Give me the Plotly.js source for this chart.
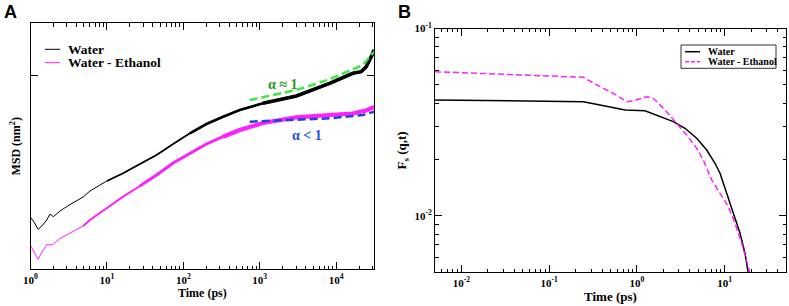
<!DOCTYPE html>
<html>
<head>
<meta charset="utf-8">
<script src="https://cdn.plot.ly/plotly-3.0.1.min.js"></script>
<style>html,body{margin:0;padding:0;background:#fff;}#chart{width:789px;height:306px;}</style>
</head>
<body>
<div id="chart"></div>
<script>
// ---------- Panel A : MSD ----------
const timeA = [1, 1.11, 1.26, 1.41, 1.63, 1.80, 1.99, 2.43, 3.28, 4.90, 6.0, 10, 16.3, 27.0, 44.7, 73.6, 122, 201, 331, 548, 1105, 3020, 8220, 16600, 21300, 24800, 30300, 31200];
const msdWater = [0.2685, 0.2442, 0.2065, 0.2235, 0.2545, 0.2855, 0.2716, 0.301, 0.334, 0.3733, 0.4042, 0.4559, 0.4956, 0.5436, 0.5901, 0.6469, 0.7021, 0.7501, 0.7878, 0.8224, 0.8570, 0.8947, 0.9602, 1.0119, 1.0201, 1.0460, 1.1151, 1.1322];
const msdWaterEthanol = [0.1229, 0.0893, 0.0516, 0.0893, 0.1280, 0.1255, 0.1306, 0.1590, 0.1859, 0.2235, 0.2545, 0.3165, 0.3748, 0.4300, 0.4868, 0.5488, 0.5989, 0.6469, 0.6846, 0.7191, 0.7553, 0.7847, 0.7966, 0.8043, 0.8147, 0.8198, 0.8353, 0.8405];
const fitTime = [740, 1105, 3020, 8220, 22400, 31600];
const fitAlphaOne = [0.874, 0.888, 0.9257, 0.9809, 1.0547, 1.1234];
const fitAlphaLess = [0.762, 0.7655, 0.7708, 0.7796, 0.7966, 0.8136];
const tickValsA = [1, 10, 100, 1000, 10000];
const tickTextA = ['10<sup>0</sup>', '10<sup>1</sup>', '10<sup>2</sup>', '10<sup>3</sup>', '10<sup>4</sup>'];

// ---------- Panel B : Fs(q,t) ----------
const timeBWater = [0.005, 0.2449, 0.3796, 0.7313, 1.236, 1.410, 1.833, 2.598, 3.532, 4.801, 6.242, 7.761, 8.849, 10.55, 12.54, 14.96, 17.05, 18.60, 19.2];
const fsWater = [0.04155, 0.04069, 0.03907, 0.03673, 0.03641, 0.03553, 0.03383, 0.03183, 0.02935, 0.02595, 0.02247, 0.01909, 0.01688, 0.01320, 0.01032, 0.00808, 0.00632, 0.00502, 0.0045];
const timeBEthanol = [0.005, 0.2449, 0.3796, 0.5381, 0.7647, 0.9095, 1.2926, 1.537, 2.090, 2.841, 3.693, 4.801, 5.707, 7.116, 8.849, 11.00, 13.12, 15.64, 18.60, 19.44, 20.0];
const fsWaterEthanol = [0.05882, 0.05491, 0.04891, 0.04510, 0.04069, 0.04104, 0.04326, 0.04241, 0.03673, 0.03119, 0.02702, 0.02294, 0.01987, 0.01554, 0.01320, 0.01120, 0.00913, 0.00714, 0.00536, 0.0050, 0.0046];
const tickValsBx = [0.01, 0.1, 1, 10];
const tickTextBx = ['10<sup>-2</sup>', '10<sup>-1</sup>', '10<sup>0</sup>', '10<sup>1</sup>'];
const tickValsBy = [0.01, 0.1];
const tickTextBy = ['10<sup>-2</sup>', '10<sup>-1</sup>'];

const seriesNames = ['Water', 'Water - Ethanol'];
const annotLabels = ['α ≈ 1', 'α < 1'];

const SERIF = 'Liberation Serif, Times New Roman, serif';
const SANS = 'Liberation Sans, Arial, sans-serif';
const MAG = '#ff20ff';

// the MSD traces get visibly noisier (thicker) at long times: redraw later parts of the same data wider
function after(t, v, t0) { const xs = [], ys = []; t.forEach((x, i) => { if (x >= t0) { xs.push(x); ys.push(v[i]); } }); return [xs, ys]; }
const waterBands = [[1, 1], [10, 1.8], [100, 2.6], [1000, 3.6]];
const ethBands = [[1, 1], [4.9, 2], [27, 3], [300, 4.2]];

const traces = [];
waterBands.forEach(([t0, w], k) => {
  const [xs, ys] = after(timeA, msdWater, t0);
  traces.push({x: xs, y: ys, name: seriesNames[0], mode: 'lines', line: {color: '#000', width: w}, xaxis: 'x', yaxis: 'y', showlegend: false});
});
ethBands.forEach(([t0, w], k) => {
  const [xs, ys] = after(timeA, msdWaterEthanol, t0);
  traces.push({x: xs, y: ys, name: seriesNames[1], mode: 'lines', line: {color: MAG, width: w}, xaxis: 'x', yaxis: 'y', showlegend: false});
});
traces.push(
  {x: fitTime, y: fitAlphaOne, name: annotLabels[0], mode: 'lines', line: {color: '#3ee83e', width: 2.5, dash: '8px,4px'}, xaxis: 'x', yaxis: 'y', showlegend: false},
  {x: fitTime, y: fitAlphaLess, name: annotLabels[1], mode: 'lines', line: {color: '#1f3fe0', width: 2.5, dash: '8px,4px'}, xaxis: 'x', yaxis: 'y', showlegend: false},
  {x: timeBWater, y: fsWater, name: seriesNames[0], mode: 'lines', line: {color: '#000', width: 1.5}, xaxis: 'x2', yaxis: 'y2', showlegend: false},
  {x: timeBEthanol, y: fsWaterEthanol, name: seriesNames[1], mode: 'lines', line: {color: MAG, width: 1.5, dash: '6px,3px'}, xaxis: 'x2', yaxis: 'y2', showlegend: false}
);

const W = 789, H = 306;
const px = v => v / W, py = v => 1 - v / H;

const axisCommon = {
  showline: true, linecolor: '#000', linewidth: 1, mirror: 'allticks',
  ticks: 'inside', ticklen: 7, tickwidth: 1, tickcolor: '#000',
  showgrid: false, zeroline: false,
  tickfont: {family: SERIF, size: 11, color: '#000', weight: 'bold'}
};
const minorLog = {ticks: 'inside', ticklen: 3.5, tickwidth: 1, tickcolor: '#000', dtick: 'D1', showgrid: false};

const layout = {
  width: W, height: H,
  margin: {l: 0, r: 0, t: 0, b: 0},
  paper_bgcolor: '#fff', plot_bgcolor: '#fff',
  showlegend: false,
  xaxis: Object.assign({}, axisCommon, {
    domain: [px(30.5), px(374.3)], anchor: 'y', type: 'log', range: [0, 4.5],
    tickmode: 'array', tickvals: tickValsA, ticktext: tickTextA, minor: minorLog,
    title: {text: 'Time (ps)', font: {family: SERIF, size: 12, color: '#000', weight: 'bold'}, standoff: 4}
  }),
  yaxis: Object.assign({}, axisCommon, {
    domain: [py(269.3), py(23.3)], anchor: 'x', range: [0, 1.27],
    tickmode: 'array', tickvals: [0, 1], showticklabels: false,
    title: {text: 'MSD (nm<sup>2</sup>)', font: {family: SERIF, size: 12, color: '#000', weight: 'bold'}, standoff: 6}
  }),
  xaxis2: Object.assign({}, axisCommon, {
    domain: [px(435), px(786)], anchor: 'y2', type: 'log', range: [Math.log10(0.005), Math.log10(50)],
    tickmode: 'array', tickvals: tickValsBx, ticktext: tickTextBx, minor: minorLog,
    title: {text: 'Time (ps)', font: {family: SERIF, size: 13, color: '#000', weight: 'bold'}, standoff: 4}
  }),
  yaxis2: Object.assign({}, axisCommon, {
    domain: [py(272.3), py(28.5)], anchor: 'x2', type: 'log', range: [Math.log10(0.005), -1],
    tickmode: 'array', tickvals: tickValsBy, ticktext: tickTextBy, minor: minorLog,
    title: {text: 'F<sub>s</sub> (q,t)', font: {family: SERIF, size: 13, color: '#000', weight: 'bold'}, standoff: 4}
  }),
  shapes: [
    // legend A samples
    {type: 'line', xref: 'paper', yref: 'paper', x0: px(45), x1: px(60), y0: py(49.3), y1: py(49.3), line: {color: '#000', width: 1}},
    {type: 'line', xref: 'paper', yref: 'paper', x0: px(45), x1: px(60), y0: py(62.7), y1: py(62.7), line: {color: MAG, width: 1}},
    // legend B box and samples
    {type: 'rect', xref: 'paper', yref: 'paper', x0: px(681), x1: px(776), y0: py(68.3), y1: py(45), line: {color: '#333', width: 1}, fillcolor: '#fff'},
    {type: 'line', xref: 'paper', yref: 'paper', x0: px(685), x1: px(700), y0: py(51.7), y1: py(51.7), line: {color: '#000', width: 1.5}},
    {type: 'line', xref: 'paper', yref: 'paper', x0: px(685), x1: px(700), y0: py(61.7), y1: py(61.7), line: {color: MAG, width: 1.5, dash: '4px,2px'}}
  ],
  annotations: [
    {text: 'A', xref: 'paper', yref: 'paper', x: px(10), y: py(12.5), showarrow: false, xanchor: 'center', yanchor: 'middle', font: {family: SANS, size: 18, color: '#000', weight: 'bold'}},
    {text: 'B', xref: 'paper', yref: 'paper', x: px(404), y: py(12.5), showarrow: false, xanchor: 'center', yanchor: 'middle', font: {family: SANS, size: 18, color: '#000', weight: 'bold'}},
    {text: annotLabels[0], xref: 'paper', yref: 'paper', x: px(282.5), y: py(84), showarrow: false, xanchor: 'center', yanchor: 'middle', font: {family: SERIF, size: 14, color: '#1f9a1f', weight: 'bold'}},
    {text: annotLabels[1], xref: 'paper', yref: 'paper', x: px(306.7), y: py(135), showarrow: false, xanchor: 'center', yanchor: 'middle', font: {family: SERIF, size: 14, color: '#2050e0', weight: 'bold'}},
    {text: seriesNames[0], xref: 'paper', yref: 'paper', x: px(66.7), y: py(49.3), showarrow: false, xanchor: 'left', yanchor: 'middle', borderpad: 0, font: {family: SERIF, size: 13.5, color: '#000', weight: 'bold'}},
    {text: seriesNames[1], xref: 'paper', yref: 'paper', x: px(66.7), y: py(62.7), showarrow: false, xanchor: 'left', yanchor: 'middle', borderpad: 0, font: {family: SERIF, size: 13.5, color: '#000', weight: 'bold'}},
    {text: seriesNames[0], xref: 'paper', yref: 'paper', x: px(706.7), y: py(51.7), showarrow: false, xanchor: 'left', yanchor: 'middle', borderpad: 0, font: {family: SERIF, size: 10, color: '#000', weight: 'bold'}},
    {text: seriesNames[1], xref: 'paper', yref: 'paper', x: px(706.7), y: py(61.7), showarrow: false, xanchor: 'left', yanchor: 'middle', borderpad: 0, font: {family: SERIF, size: 10, color: '#000', weight: 'bold'}}
  ]
};

Plotly.newPlot('chart', traces, layout, {staticPlot: true, displayModeBar: false});
</script>
</body>
</html>
